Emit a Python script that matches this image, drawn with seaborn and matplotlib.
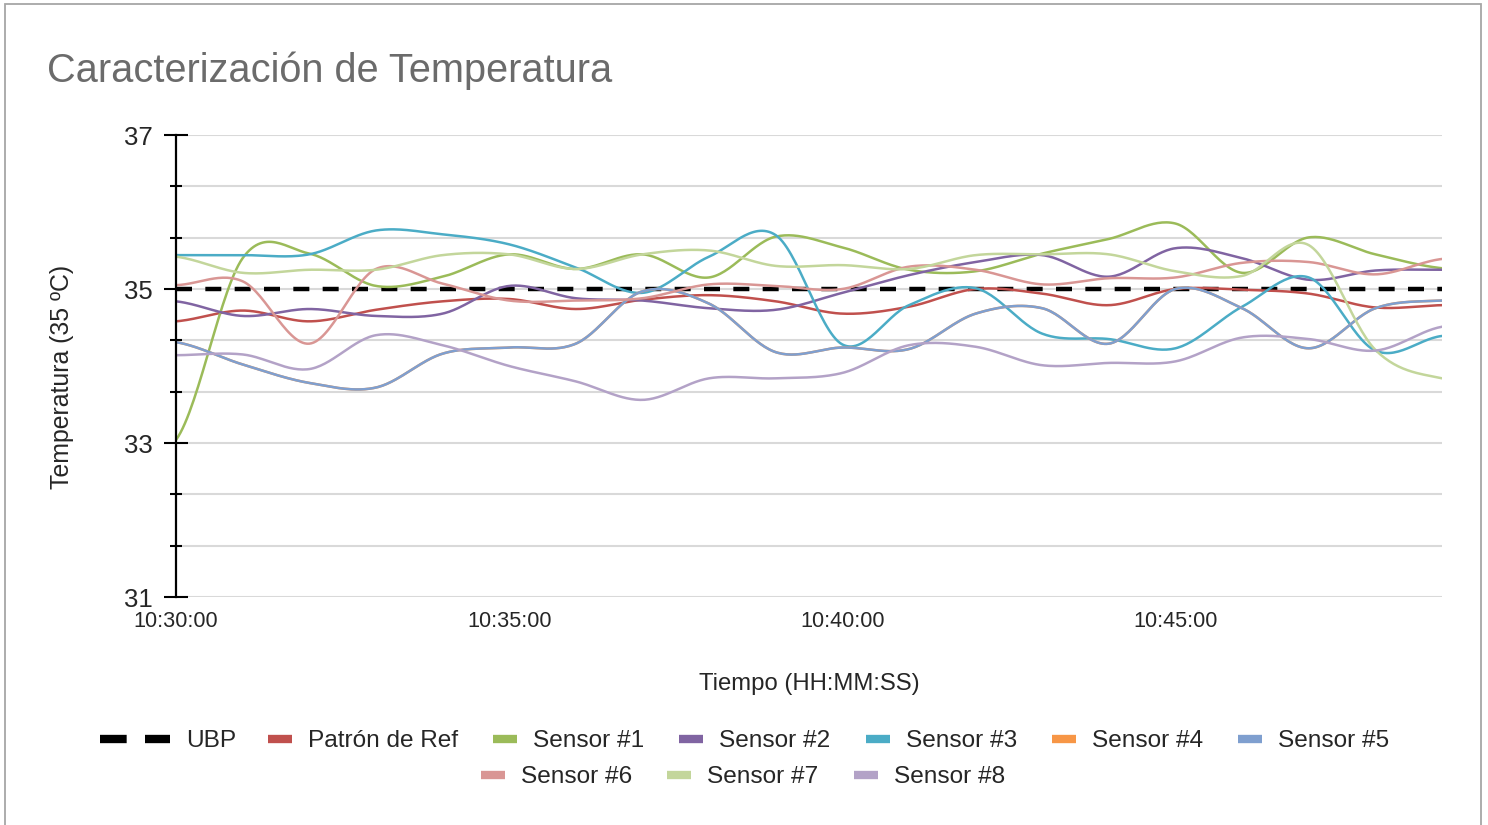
import numpy as np
import pandas as pd
import matplotlib
matplotlib.use("Agg")
import matplotlib.pyplot as plt
from matplotlib.lines import Line2D
from matplotlib.patches import Rectangle
import seaborn as sns

# ---------------- data ----------------
minutes = list(range(20))  # 10:30:00 ... 10:49:00, one reading per minute
tick_labels = ["10:30:00", "10:35:00", "10:40:00", "10:45:00"]
tick_minutes = [0, 5, 10, 15]

ubp = [35.0] * 20
patron = [34.58, 34.72, 34.58, 34.73, 34.84, 34.87, 34.74, 34.86, 34.92, 34.84,
          34.68, 34.77, 35.00, 34.94, 34.79, 35.00, 34.99, 34.94, 34.76, 34.79]
sensor1 = [33.04, 35.40, 35.46, 35.04, 35.16, 35.45, 35.26, 35.45, 35.15, 35.68,
           35.54, 35.25, 35.23, 35.46, 35.65, 35.85, 35.21, 35.67, 35.45, 35.27]
sensor2 = [34.84, 34.65, 34.74, 34.65, 34.68, 35.04, 34.88, 34.85, 34.75, 34.73,
           34.95, 35.18, 35.35, 35.44, 35.16, 35.53, 35.40, 35.12, 35.24, 35.25]
sensor3 = [35.44, 35.44, 35.45, 35.76, 35.71, 35.58, 35.28, 34.95, 35.42, 35.70,
           34.28, 34.79, 35.01, 34.42, 34.35, 34.23, 34.77, 35.15, 34.20, 34.39]
sensor4 = [34.31, 34.02, 33.78, 33.72, 34.16, 34.24, 34.29, 34.97, 34.81, 34.18,
           34.24, 34.22, 34.68, 34.75, 34.29, 35.00, 34.75, 34.23, 34.75, 34.85]
sensor5 = [34.31, 34.02, 33.78, 33.72, 34.16, 34.24, 34.29, 34.97, 34.81, 34.18,
           34.24, 34.22, 34.68, 34.75, 34.29, 35.00, 34.75, 34.23, 34.75, 34.85]
sensor6 = [35.05, 35.10, 34.29, 35.26, 35.07, 34.85, 34.85, 34.88, 35.06, 35.04,
           35.00, 35.29, 35.25, 35.06, 35.14, 35.15, 35.34, 35.35, 35.19, 35.39]
sensor7 = [35.42, 35.21, 35.25, 35.25, 35.44, 35.45, 35.26, 35.45, 35.50, 35.30,
           35.31, 35.26, 35.44, 35.45, 35.45, 35.23, 35.17, 35.57, 34.21, 33.84]
sensor8 = [34.14, 34.15, 33.96, 34.40, 34.27, 34.00, 33.80, 33.56, 33.84, 33.84,
           33.91, 34.27, 34.25, 34.01, 34.04, 34.06, 34.37, 34.35, 34.20, 34.51]

series_names = ["Patrón de Ref", "Sensor #1", "Sensor #2", "Sensor #3", "Sensor #4",
                "Sensor #5", "Sensor #6", "Sensor #7", "Sensor #8"]
series_values = [patron, sensor1, sensor2, sensor3, sensor4, sensor5, sensor6, sensor7, sensor8]
colors = ["#C0504D", "#9BBB59", "#8064A2", "#4BACC6", "#F79646",
          "#7F9FCF", "#D99694", "#C3D69B", "#B3A2C7"]


def smooth(x, y, n=30):
    """Excel-style smoothed line (Catmull-Rom through the data points)."""
    x = np.asarray(x, float)
    y = np.asarray(y, float)
    yp = np.concatenate([[y[0]], y, [y[-1]]])
    xs, ys = [], []
    for i in range(len(y) - 1):
        p0, p1, p2, p3 = yp[i], yp[i + 1], yp[i + 2], yp[i + 3]
        t = np.linspace(0, 1, n, endpoint=(i == len(y) - 2))
        m1 = (p2 - p0) / 2
        m2 = (p3 - p1) / 2
        h00 = 2 * t**3 - 3 * t**2 + 1
        h10 = t**3 - 2 * t**2 + t
        h01 = -2 * t**3 + 3 * t**2
        h11 = t**3 - t**2
        ys.append(h00 * p1 + h10 * m1 + h01 * p2 + h11 * m2)
        xs.append(x[i] + t * (x[i + 1] - x[i]))
    return np.concatenate(xs), np.concatenate(ys)


frames = []
for name, vals in zip(series_names, series_values):
    sx, sy = smooth(minutes, vals)
    frames.append(pd.DataFrame({"minuto": sx, "temp": sy, "serie": name}))
df = pd.concat(frames, ignore_index=True)

# ---------------- style ----------------
sns.set_style("white")
plt.rcParams["font.family"] = ["Liberation Sans", "DejaVu Sans"]

fig = plt.figure(figsize=(14.88, 8.25), dpi=100)
ax = fig.add_axes([176 / 1488, 1 - 597 / 825, (1442 - 176) / 1488, (597 - 135) / 825])

# UBP reference line
sns.lineplot(x=minutes, y=ubp, color="black", lw=3.2, linestyle=(0, (3.6, 3.0)), ax=ax,
             legend=False, zorder=2)
# sensors
sns.lineplot(data=df, x="minuto", y="temp", hue="serie", hue_order=series_names,
             palette=dict(zip(series_names, colors)), estimator=None, sort=False,
             lw=1.8, ax=ax, legend=False, zorder=3)

# ---------------- axes ----------------
ax.set_xlim(0, 19)
ax.set_ylim(31, 37)
ax.set_yticks([31, 33, 35, 37])
ax.set_yticks(np.arange(31, 37.001, 2 / 3), minor=True)
ax.set_xticks(tick_minutes)
ax.set_xticklabels(tick_labels)
ax.grid(True, which="both", axis="y", color="#D9D9D9", lw=1.5, zorder=0)
ax.grid(False, axis="x")
for s in ["top", "right", "bottom"]:
    ax.spines[s].set_visible(False)
ax.spines["left"].set_color("black")
ax.spines["left"].set_linewidth(1.6)
ax.spines["left"].set_zorder(4)
ax.tick_params(axis="y", which="major", direction="inout", length=17, width=1.5,
               color="black", labelsize=18.5, pad=8, left=True)
ax.tick_params(axis="y", which="minor", direction="inout", length=8.5, width=1.5,
               color="black", left=True)
ax.tick_params(axis="x", length=0, labelsize=15.6, pad=10)

ax.set_xlabel("Tiempo (HH:MM:SS)", fontsize=17.2, labelpad=0)
ax.xaxis.set_label_coords(0.5, -(684 - 597) / 462)
ax.xaxis.label.set_va("center")
ax.set_ylabel("Temperatura (35 ºC)", fontsize=17.9)
ax.yaxis.set_label_coords((62 - 176) / 1266, (597 - 377) / 462)
ax.yaxis.label.set_va("center")

fig.text(47 / 1488, 1 - 71 / 825, "Caracterización de Temperatura", fontsize=28.6,
         color="#6B6B6B", ha="left", va="center")

# ---------------- legend ----------------
fs = 17.6
fpx = fs * 100 / 72
common = dict(frameon=False, fontsize=fs, borderpad=0, borderaxespad=0,
              handletextpad=16 / fpx, columnspacing=35 / fpx, loc="center left")
leg_a = fig.legend(handles=[Line2D([], [], color="black", lw=6, linestyle=(0, (3.2, 2.2)))],
                   labels=["UBP"], bbox_to_anchor=(100 / 1488, 1 - 741 / 825),
                   handlelength=70 / fpx, **common)
row1 = list(zip(series_names[:6], colors[:6]))
leg_b = fig.legend(handles=[Line2D([], [], color=c, lw=6, solid_capstyle="butt") for _, c in row1],
                   labels=[n for n, _ in row1], ncol=6,
                   bbox_to_anchor=(268 / 1488, 1 - 741 / 825), handlelength=24 / fpx, **common)
row2 = list(zip(series_names[6:], colors[6:]))
leg_c = fig.legend(handles=[Line2D([], [], color=c, lw=6, solid_capstyle="butt") for _, c in row2],
                   labels=[n for n, _ in row2], ncol=3,
                   bbox_to_anchor=(481 / 1488, 1 - 777 / 825), handlelength=24 / fpx, **common)

# outer chart border
fig.patches.append(Rectangle((5 / 1488, -0.02), (1481 - 5) / 1488, 1.02 - 4 / 825,
                             transform=fig.transFigure, fill=False, edgecolor="#A6A6A6",
                             lw=1.3))

fig.savefig("out.png", dpi=100)
